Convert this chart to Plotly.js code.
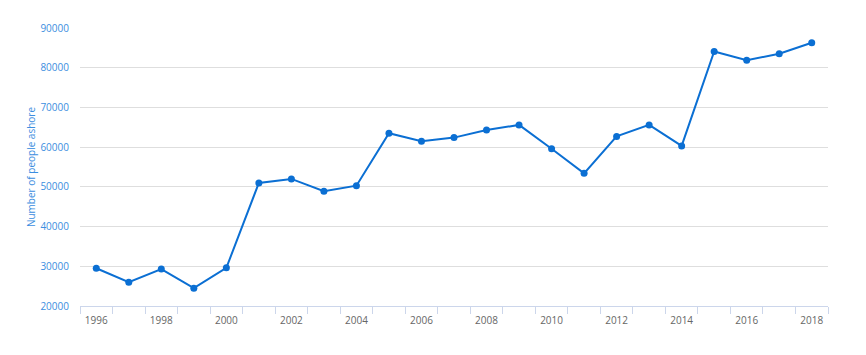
<!DOCTYPE html>
<html>
<head>
<meta charset="utf-8">
<script src="https://cdn.plot.ly/plotly-3.0.1.min.js"></script>
<style>
  html, body { margin: 0; padding: 0; background: #fff; }
  #chart { width: 866px; height: 355px; }
</style>
</head>
<body>
<div id="chart"></div>
<script>
const years = [1996, 1997, 1998, 1999, 2000, 2001, 2002, 2003, 2004, 2005, 2006, 2007,
               2008, 2009, 2010, 2011, 2012, 2013, 2014, 2015, 2016, 2017, 2018];
const peopleAshore = [29500, 26000, 29300, 24500, 29600, 51000, 52000, 48900, 50300, 63500, 61500, 62400,
                      64300, 65600, 59600, 53400, 62700, 65600, 60300, 84100, 81900, 83500, 86300];
const xTickYears = [1996, 1998, 2000, 2002, 2004, 2006, 2008, 2010, 2012, 2014, 2016, 2018];
const yTicks = [20000, 30000, 40000, 50000, 60000, 70000, 80000, 90000];

const lineColor = '#0b6fd3';

const trace = {
    x: years,
    y: peopleAshore,
    type: 'scatter',
    mode: 'lines+markers',
    line: { color: lineColor, width: 2 },
    marker: { color: lineColor, size: 7 },
    hoverinfo: 'x+y'
};

const layout = {
    width: 866,
    height: 355,
    margin: { l: 80, r: 38, t: 28, b: 49 },
    paper_bgcolor: '#fff',
    plot_bgcolor: '#fff',
    showlegend: false,
    font: { family: '"Open Sans", "DejaVu Sans", sans-serif', size: 10 },
    xaxis: {
        range: [years[0] - 0.5, years[years.length - 1] + 0.5],
        tickmode: 'array',
        tickvals: xTickYears,
        ticktext: xTickYears.map(String),
        ticks: '',
        ticklabelstandoff: 5,
        tickfont: { color: '#666666', size: 10 },
        showgrid: false,
        zeroline: false,
        showline: true,
        linecolor: '#ccd6eb',
        linewidth: 1,
        minor: {
            tick0: years[0] - 0.5,
            dtick: 1,
            ticks: 'outside',
            ticklen: 7,
            tickcolor: '#ccd6eb',
            tickwidth: 1,
            showgrid: false
        },
        fixedrange: true
    },
    yaxis: {
        range: [yTicks[0], yTicks[yTicks.length - 1]],
        tickmode: 'array',
        tickvals: yTicks,
        ticktext: yTicks.map(String),
        ticks: '',
        ticklabelstandoff: 10,
        tickfont: { color: '#3c8ee0', size: 10 },
        showgrid: true,
        gridcolor: '#dedede',
        gridwidth: 1,
        zeroline: false,
        showline: false,
        automargin: true,
        title: {
            text: 'Number of people ashore',
            font: { color: '#3c8ee0', size: 10 },
            standoff: 2
        },
        fixedrange: true
    }
};

Plotly.newPlot('chart', [trace], layout, { displayModeBar: false, staticPlot: true });
</script>
</body>
</html>
